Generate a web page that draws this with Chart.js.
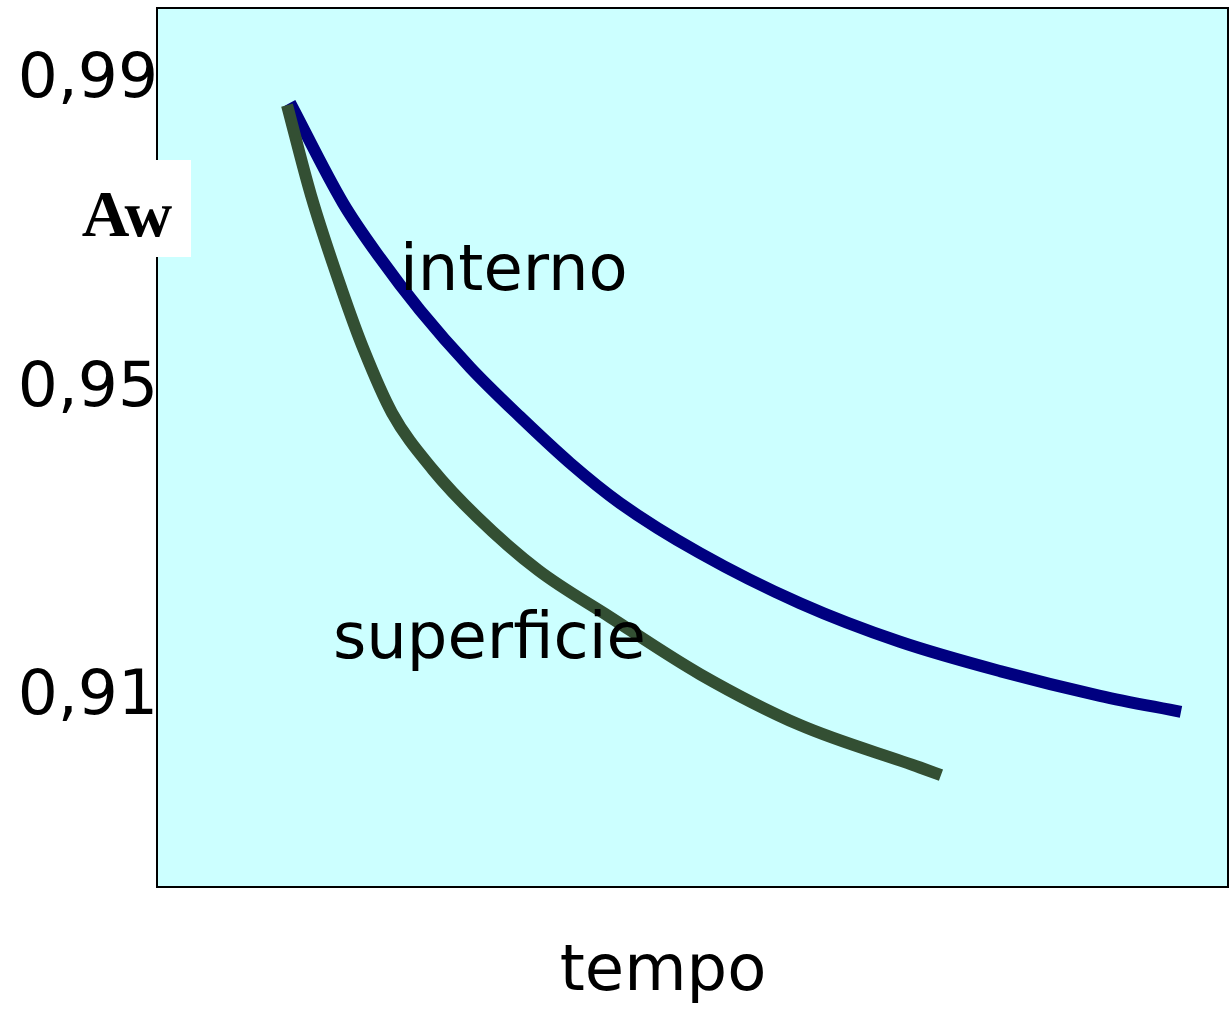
<!DOCTYPE html>
<html>
<head>
<meta charset="utf-8">
<script src="https://cdn.jsdelivr.net/npm/chart.js@4/dist/chart.umd.min.js"></script>
<style>
html,body{margin:0;padding:0;background:#fff;}
#wrap{width:1229px;height:1010px;}
</style>
</head>
<body>
<div id="wrap"><canvas id="c" width="1229" height="1010"></canvas></div>
<script>
// ---- data ----
const seriesNames = ['superficie', 'interno'];
const superficieX = [12.14, 14.38, 17.27, 19.33, 21.94, 25.77, 29.88, 35.57, 42.30, 50.70, 60.04, 71.24, 73.20];
const superficieY = [0.9861, 0.9744, 0.9621, 0.9543, 0.9462, 0.9388, 0.9327, 0.9258, 0.9197, 0.9123, 0.9057, 0.9002, 0.8992];
const internoX = [12.42, 17.37, 20.82, 24.56, 29.23, 33.89, 38.56, 43.23, 50.70, 60.04, 69.37, 78.71, 88.05, 95.61];
const internoY = [0.9864, 0.9734, 0.9663, 0.9595, 0.9521, 0.9457, 0.9397, 0.9345, 0.9280, 0.9215, 0.9165, 0.9127, 0.9095, 0.9074];
const yTickValues = [0.91, 0.95, 0.99];
const yTickLabels = ['0,91', '0,95', '0,99'];
const xTitle = 'tempo';
const yTitle = 'Aw';
// label anchors in data units
const seriesLabelX = [16.43, 22.69];
const seriesLabelY = [0.9144, 0.9621];

const toPts = (xs, ys) => xs.map((x, i) => ({x: x, y: ys[i]}));

const FONT = '"DejaVu Sans", sans-serif';

const decor = {
  id: 'decor',
  beforeDraw(chart) {
    const {ctx, chartArea: a} = chart;
    ctx.save();
    ctx.fillStyle = '#CCFFFF';
    ctx.fillRect(a.left, a.top, a.right - a.left, a.bottom - a.top);
    ctx.restore();
  },
  afterDraw(chart) {
    const {ctx, chartArea: a, scales} = chart;
    ctx.save();
    // plot frame
    ctx.strokeStyle = '#000';
    ctx.lineWidth = 2;
    ctx.strokeRect(a.left, a.top, a.right - a.left, a.bottom - a.top);
    // series labels
    ctx.fillStyle = '#000';
    ctx.font = '64px ' + FONT;
    ctx.textAlign = 'left';
    ctx.textBaseline = 'alphabetic';
    seriesNames.forEach((n, i) => {
      ctx.fillText(n, scales.x.getPixelForValue(seriesLabelX[i]), scales.y.getPixelForValue(seriesLabelY[i]));
    });
    // x title
    ctx.textAlign = 'center';
    ctx.fillText(xTitle, a.left + 506, a.bottom + 103);
    // y title in white box
    ctx.fillStyle = '#fff';
    ctx.fillRect(a.left - 85, a.top + 152, 119, 97);
    ctx.fillStyle = '#000';
    ctx.font = 'bold 66px "Liberation Serif", "Times New Roman", serif';
    ctx.textAlign = 'center';
    ctx.fillText(yTitle, a.left - 30, a.top + 228);
    ctx.restore();
  }
};

new Chart(document.getElementById('c'), {
  type: 'scatter',
  data: {
    datasets: [
      {
        label: seriesNames[0],
        data: toPts(superficieX, superficieY),
        showLine: true,
        borderColor: '#334F33',
        backgroundColor: '#334F33',
        borderWidth: 12,
        borderCapStyle: 'butt',
        pointRadius: 0,
        cubicInterpolationMode: 'monotone'
      },
      {
        label: seriesNames[1],
        data: toPts(internoX, internoY),
        showLine: true,
        borderColor: '#000080',
        backgroundColor: '#000080',
        borderWidth: 12,
        borderCapStyle: 'butt',
        pointRadius: 0,
        cubicInterpolationMode: 'monotone'
      }
    ]
  },
  options: {
    responsive: false,
    animation: false,
    events: [],
    layout: {padding: {top: 8, right: 1, left: 0, bottom: 0}},
    plugins: {legend: {display: false}, tooltip: {enabled: false}},
    scales: {
      x: {
        type: 'linear',
        min: 0,
        max: 100,
        grid: {display: false, drawTicks: false},
        border: {display: false},
        ticks: {display: false},
        afterFit(s) { s.height = 123; s.paddingLeft = 0; s.paddingRight = 0; }
      },
      y: {
        type: 'linear',
        min: 0.8847,
        max: 0.9987,
        grid: {display: false, drawTicks: false},
        border: {display: false},
        afterBuildTicks(s) { s.ticks = yTickValues.map(v => ({value: v})); },
        ticks: {
          padding: -1,
          labelOffset: 6,
          color: '#000',
          font: {family: 'DejaVu Sans', size: 63},
          callback(v) {
            const i = yTickValues.findIndex(t => Math.abs(t - v) < 1e-9);
            return i >= 0 ? yTickLabels[i] : '';
          }
        },
        afterFit(s) { s.width = 157; s.paddingTop = 0; s.paddingBottom = 0; }
      }
    }
  },
  plugins: [decor]
});
</script>
</body>
</html>
